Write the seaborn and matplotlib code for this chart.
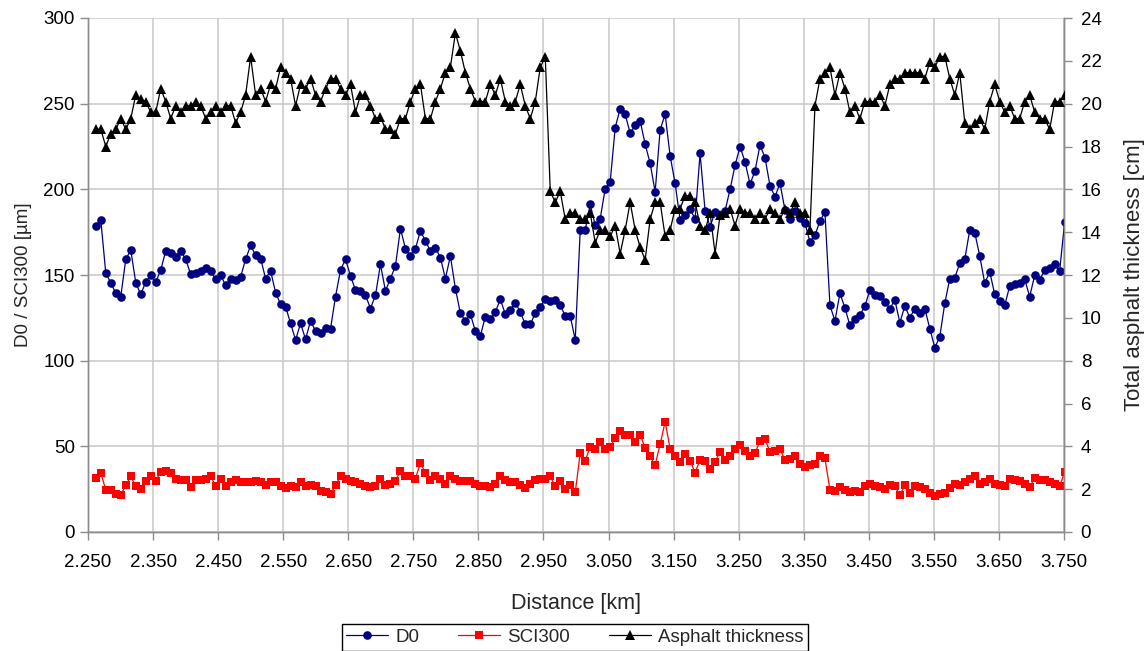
import numpy as np
import pandas as pd
import matplotlib
matplotlib.use("Agg")
import matplotlib.pyplot as plt
import seaborn as sns

# Deflection survey data: central deflection D0, surface curvature index SCI300
# (both in micrometres) and total asphalt thickness (cm) along the road section.
d0 = [
    178.6, 182.1, 151.0, 145.5, 139.3, 137.4, 159.2, 164.6, 145.5, 138.7,
    145.9, 149.8, 145.9, 152.9, 164.0, 163.1, 160.7, 164.0, 159.2, 150.4,
    151.0, 152.4, 154.3, 152.4, 147.5, 149.8, 144.0, 147.9, 147.1, 149.0,
    159.2, 167.3, 161.5,
    159.6, 147.9, 152.4, 139.7, 132.9, 131.5, 121.8, 112.1, 121.8, 112.5,
    123.2, 117.3, 116.4, 119.3, 118.7, 137.4, 152.9, 159.2, 149.4, 141.3,
    140.7, 138.2, 130.4, 138.2, 156.2, 140.7, 147.9, 155.3, 177.1, 165.4,
    161.1, 165.4, 175.7,
    169.9, 164.0, 166.0, 160.2, 147.9, 161.1, 142.1, 127.7, 123.2, 127.1,
    117.3, 114.4, 125.7, 124.2, 128.4, 135.8, 127.1, 129.6, 133.9, 128.4,
    121.2, 121.2, 127.7, 131.5, 135.8, 134.8, 135.4, 132.3, 126.1, 126.1,
    112.1, 176.3,
    176.3, 191.3, 179.0, 182.9, 200.4, 204.3, 236.0, 247.1, 243.8, 232.7,
    237.4, 239.9, 226.3, 215.2, 198.5, 234.7, 243.8, 219.5, 203.5, 182.1,
    184.8, 188.3, 182.9, 221.0, 187.4, 178.2, 186.8, 184.8, 187.4, 200.0,
    214.0, 224.9, 216.0, 203.0,
    210.8, 225.8, 218.5, 202.0, 195.7, 203.5, 187.9, 182.9, 187.4, 183.5,
    180.2, 169.3, 173.2, 181.5, 186.8, 132.3, 123.2, 139.3, 130.9, 120.6,
    124.5, 126.5, 131.9, 141.3, 138.2, 137.8, 134.3, 130.4, 135.4, 122.2,
    131.9, 125.1, 130.4,
    127.7, 130.4, 118.7, 107.6, 114.0, 133.5, 147.9, 148.5, 156.8, 159.2,
    176.3, 174.7, 161.1, 145.2, 151.8, 138.7, 134.8, 132.3, 143.6, 144.6,
    145.5, 147.5, 137.4, 149.8, 147.1, 152.9, 154.3, 156.2, 152.4, 180.9,
]

sci300 = [
    31.8, 34.4, 24.6, 24.6, 22.1, 21.5, 27.4, 32.4, 26.6, 25.0,
    29.9, 32.4, 29.9, 35.1, 35.7, 34.4, 31.2, 30.5, 30.5, 26.0,
    30.5, 30.5, 31.2, 32.8, 26.6, 31.2, 26.6, 28.9, 30.5, 28.9,
    28.9, 28.9, 29.9, 28.9, 27.4, 28.9, 28.9, 26.6, 25.4, 26.6,
    26.0, 28.9, 27.0, 27.4, 26.6, 24.0, 23.1, 22.1, 27.4, 32.4,
    30.9, 29.9, 28.9, 28.0, 27.0, 26.0, 26.6, 31.2, 27.4, 28.0,
    29.9, 35.7, 32.8, 32.4, 31.2,
    40.2, 34.4, 30.5, 32.8, 31.2, 27.9, 32.8, 30.9, 29.9, 29.9,
    29.9, 27.9, 26.6, 26.6, 26.0, 27.9, 32.4, 30.5, 28.9, 28.9,
    27.4, 25.4, 27.9, 30.5, 31.2, 31.2, 32.4, 26.6, 29.9, 25.0,
    27.4, 23.1, 46.0, 41.6, 49.9, 48.4, 52.3, 48.4, 49.9, 54.6,
    59.1, 56.5, 56.5, 52.6, 56.5, 49.3, 44.1, 39.0, 51.3, 64.3,
    48.7, 44.1, 41.0, 45.4, 41.6, 34.7, 42.1, 41.6, 36.7, 41.0,
    46.8, 42.1, 44.5, 48.7, 51.0,
    47.4, 44.1, 46.0, 53.2, 54.2, 46.8, 47.4, 48.4, 42.1, 42.5,
    44.1, 39.6, 37.7, 39.0, 39.6, 44.5, 42.9, 24.6, 24.0, 26.0,
    24.6, 23.5, 24.0, 23.5, 26.6, 27.9, 26.6, 26.0, 25.0, 27.4,
    26.6, 21.5, 27.4, 22.7, 26.6, 26.0, 25.0, 22.7, 21.1, 22.1,
    22.7, 25.4, 27.9, 27.4, 28.9, 30.9, 32.4, 27.9, 28.9, 31.2,
    27.9, 27.4, 26.6, 31.2, 30.5, 29.9, 27.9, 26.0, 31.8, 30.5,
    30.5, 28.9, 27.9, 26.6, 35.1,
]

asphalt_cm = [
    18.8, 18.8, 18.0, 18.6, 18.8, 19.3, 18.8, 19.3, 20.4, 20.2,
    20.1, 19.6, 19.6, 20.7, 20.1, 19.3, 19.9, 19.6, 19.9, 19.9,
    20.1, 19.9, 19.3, 19.6, 19.9, 19.6, 19.9, 19.9, 19.1, 19.6,
    20.4, 22.2, 20.4,
    20.7, 20.1, 20.9, 20.7, 21.7, 21.45, 21.17, 19.9, 20.9, 20.7,
    21.17, 20.4, 20.1, 20.7, 21.17, 21.17, 20.7, 20.4, 20.9, 19.6,
    20.4, 20.4, 19.9, 19.3, 19.4, 18.8, 18.8, 18.6, 19.3, 19.3,
    20.1, 20.7, 20.9,
    19.3, 19.3, 20.1, 20.7, 21.45, 21.7, 23.3, 22.46, 21.45, 20.7,
    20.1, 20.1, 20.1, 20.9, 20.4, 21.17, 20.1, 19.9, 20.1, 20.9,
    19.9, 19.3, 20.1, 21.7, 22.2, 15.9, 15.4, 15.9, 14.6, 14.9,
    14.9, 14.6,
    14.6, 14.9, 13.5, 14.1, 14.1, 13.8, 14.3, 13.0, 14.1, 15.4,
    14.1, 13.3, 12.7, 14.6, 15.4, 15.4, 13.8, 14.1, 15.1, 15.1,
    15.7, 15.7, 15.4, 14.3, 14.1, 14.9, 13.0, 14.8, 14.9, 15.1,
    14.3, 15.1, 14.9, 14.9,
    14.6, 14.9, 14.6, 15.1, 14.9, 14.6, 15.1, 14.9, 15.4, 14.9,
    14.9, 14.1, 19.9, 21.17, 21.45, 21.7, 20.4, 21.45, 20.7, 19.6,
    19.9, 19.3, 20.1, 20.1, 20.1, 20.4, 19.9, 20.9, 21.17, 21.17,
    21.45, 21.45, 21.45,
    21.45, 21.17, 21.95, 21.7, 22.2, 22.2, 21.17, 20.4, 21.45, 19.1,
    18.8, 19.1, 19.3, 18.8, 20.1, 20.9, 20.1, 19.6, 19.9, 19.3,
    19.3, 20.1, 20.4, 19.6, 19.3, 19.3, 18.8, 20.1, 20.1, 20.4,
]

# Measurement stations are evenly spaced along the section (km)
first_station_km = 2.262
last_station_km = 3.751
distance_km = np.linspace(first_station_km, last_station_km, len(d0))

x_ticks = [2.250, 2.350, 2.450, 2.550, 2.650, 2.750, 2.850, 2.950,
           3.050, 3.150, 3.250, 3.350, 3.450, 3.550, 3.650, 3.750]

df = pd.DataFrame({"distance": distance_km, "D0": d0,
                   "SCI300": sci300, "asphalt": asphalt_cm})

sns.set_style("whitegrid")
plt.rcParams["font.family"] = ["Liberation Sans", "DejaVu Sans"]

fig = plt.figure(figsize=(11.45, 6.51), dpi=100)
W, H = 1145, 651
ax = fig.add_axes([88 / W, 1 - 532 / H, (1064 - 88) / W, (532 - 18) / H])
ax2 = ax.twinx()

navy = "#000080"
red = "#ff0000"

sns.lineplot(data=df, x="distance", y="D0", ax=ax, color=navy, marker="o",
             markersize=6.2, markeredgewidth=0, linewidth=0.9, label="D0",
             zorder=3)
sns.lineplot(data=df, x="distance", y="SCI300", ax=ax, color=red, marker="s",
             markersize=6.0, markeredgewidth=0, linewidth=0.9, label="SCI300",
             zorder=3)
sns.lineplot(data=df, x="distance", y="asphalt", ax=ax2, color="black",
             marker="^", markersize=6.8, markeredgewidth=0, linewidth=0.9,
             label="Asphalt thickness", zorder=3)

grid_c = "#c8c8c8"
spine_c = "#8c8c8c"

ax.set_xlim(2.250, 3.750)
ax.set_ylim(0, 300)
ax2.set_ylim(0, 24)
ax.set_xticks(x_ticks)
ax.set_xticklabels([f"{t:.3f}" for t in x_ticks])
ax.set_yticks(np.arange(0, 301, 50))
ax2.set_yticks(np.arange(0, 25, 2))

ax.grid(True, color=grid_c, linewidth=1.1)
ax2.grid(False)

for a in (ax, ax2):
    for side, sp in a.spines.items():
        sp.set_color(spine_c)
        sp.set_linewidth(1.0)
    a.spines["top"].set_visible(False)

ax.tick_params(axis="both", which="major", direction="out", length=6,
               width=1, color=spine_c, labelsize=13.5, labelcolor="black",
               bottom=True, left=True)
ax2.tick_params(axis="y", direction="out", length=6, width=1, color=spine_c,
                labelsize=13.5, labelcolor="black", right=True, pad=6)
ax.tick_params(axis="x", pad=10)

ax.set_xlabel("Distance [km]", fontsize=15.5, labelpad=16)
ax.set_ylabel("D0 / SCI300 [µm]", fontsize=13.5, labelpad=8)
ax2.set_ylabel("Total asphalt thickness [cm]", fontsize=16, labelpad=16)

h1, l1 = ax.get_legend_handles_labels()
h2, l2 = ax2.get_legend_handles_labels()
ax.get_legend().remove()
ax2.get_legend().remove()
leg = fig.legend(h1 + h2, l1 + l2, loc="upper center",
                 bbox_to_anchor=(575 / W, 1 - 624 / H), ncol=3,
                 fontsize=13.5, frameon=True, fancybox=False,
                 edgecolor="black", framealpha=1, handlelength=2.2,
                 handletextpad=0.4, columnspacing=2.1, borderpad=0.25,
                 borderaxespad=0)
leg.get_frame().set_linewidth(1.0)

fig.savefig("out.png", dpi=100)
